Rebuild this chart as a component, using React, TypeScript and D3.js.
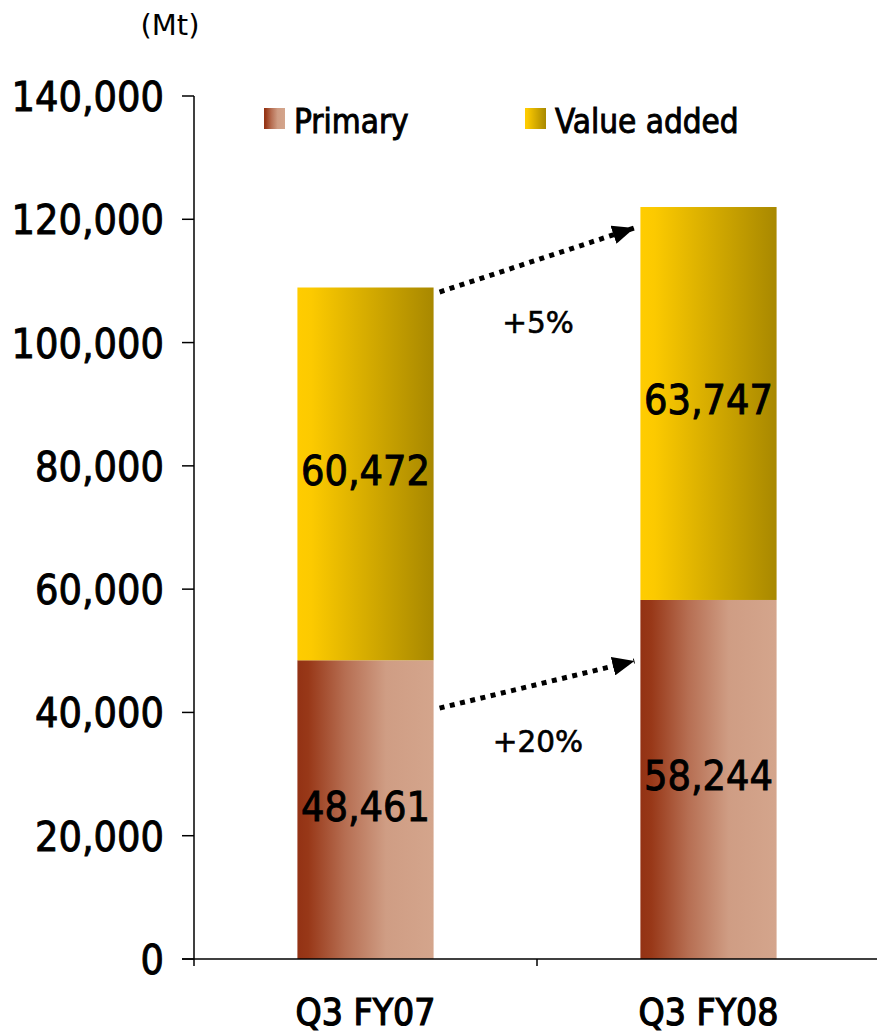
import React from "react";
import * as d3 from "d3";

const categories = ["Q3 FY07", "Q3 FY08"];
const primary = [48461, 58244];
const valueAdded = [60472, 63747];
const yTicks = [0, 20000, 40000, 60000, 80000, 100000, 120000, 140000];
const seriesNames = ["Primary", "Value added"];
// growth annotations
const growthLabels = ["+5%", "+20%"];
const arrowFrom = [108200, 40700];
const arrowTo = [118600, 48350];
const labelAt = [101500, 33500];

const W = 877;
const H = 1034;
const COND = "'DejaVu Sans Condensed','DejaVu Sans',sans-serif";
const SANS = "'DejaVu Sans',sans-serif";

export default function App() {
  const y = d3.scaleLinear().domain([0, 140000]).range([959, 96]);
  const x = d3.scaleBand().domain(categories).range([194, 880]).paddingInner(0).paddingOuter(0);
  const bw = x.bandwidth() * 0.397;
  const fmt = d3.format(",");

  const barX = (c: string) => (x(c) as number) + x.bandwidth() / 2 - bw / 2;
  const heavy = { stroke: "#000", strokeWidth: 0.9 } as any;

  return (
    <svg width={W} height={H} style={{ display: "block", position: "absolute", left: 0, top: 0 }}>
      <defs>
        <linearGradient id="gPrim" x1="0" x2="1" y1="0" y2="0">
          <stop offset="0" stopColor="#933214" />
          <stop offset="0.08" stopColor="#983818" />
          <stop offset="0.35" stopColor="#b66e52" />
          <stop offset="0.65" stopColor="#cf9d84" />
          <stop offset="1" stopColor="#d4a58c" />
        </linearGradient>
        <linearGradient id="gVal" x1="0" x2="1" y1="0" y2="0">
          <stop offset="0" stopColor="#ffcc00" />
          <stop offset="0.1" stopColor="#fcca00" />
          <stop offset="1" stopColor="#a88800" />
        </linearGradient>
        <marker id="ah" viewBox="0 0 10 10" refX="10" refY="5" markerWidth="4.4" markerHeight="3.8"
          markerUnits="strokeWidth" orient="auto" preserveAspectRatio="none">
          <path d="M0,0 L10,5 L0,10 Z" fill="#000" />
        </marker>
      </defs>

      <text x={170} y={35} fontFamily={SANS} fontSize={29} textAnchor="middle" fill="#000">(Mt)</text>

      {/* bars */}
      {categories.map((c, i) => (
        <g key={c}>
          <rect x={barX(c)} width={bw} y={y(primary[i])} height={y(0) - y(primary[i])} fill="url(#gPrim)" />
          <rect x={barX(c)} width={bw} y={y(primary[i] + valueAdded[i])}
            height={y(primary[i]) - y(primary[i] + valueAdded[i])} fill="url(#gVal)" />
          <text x={barX(c) + bw / 2} y={(y(0) + y(primary[i])) / 2 + 11} textAnchor="middle"
            fontFamily={COND} fontSize={41} fill="#000" {...heavy}>{fmt(primary[i])}</text>
          <text x={barX(c) + bw / 2} y={(y(primary[i]) + y(primary[i] + valueAdded[i])) / 2 + 11}
            textAnchor="middle" fontFamily={COND} fontSize={41} fill="#000" {...heavy}>{fmt(valueAdded[i])}</text>
        </g>
      ))}

      {/* axes */}
      <line x1={194} x2={194} y1={y(140000)} y2={966} stroke="#000" strokeWidth={1.5} />
      <line x1={182} x2={W} y1={y(0)} y2={y(0)} stroke="#000" strokeWidth={1.5} />
      {yTicks.map((t) => (
        <g key={t}>
          <line x1={182} x2={194} y1={y(t)} y2={y(t)} stroke="#000" strokeWidth={1.5} />
          <text x={164} y={y(t) + 15} textAnchor="end" fontFamily={COND} fontSize={41} fill="#000" {...heavy}>
            {fmt(t)}
          </text>
        </g>
      ))}
      {categories.map((c) => (
        <line key={"t" + c} x1={(x(c) as number) + x.bandwidth()} x2={(x(c) as number) + x.bandwidth()}
          y1={y(0)} y2={966} stroke="#000" strokeWidth={1.5} />
      ))}
      {categories.map((c) => (
        <text key={"l" + c} x={(x(c) as number) + x.bandwidth() / 2} y={1025} textAnchor="middle"
          fontFamily={COND} fontSize={37} fill="#000" stroke="#000" strokeWidth={1.2}>{c}</text>
      ))}

      {/* growth arrows */}
      {growthLabels.map((g, i) => {
        const x0 = barX(categories[0]) + bw + 6;
        const x1 = barX(categories[1]) - 6;
        return (
          <g key={g}>
            <line x1={x0} y1={y(arrowFrom[i])} x2={x1} y2={y(arrowTo[i])} stroke="#000" strokeWidth={5}
              strokeDasharray="5 5.5" markerEnd="url(#ah)" />
            <text x={538} y={y(labelAt[i])} textAnchor="middle" fontFamily={SANS}
              fontSize={29.5} fill="#000" stroke="#000" strokeWidth={0.6}>{g}</text>
          </g>
        );
      })}

      {/* legend */}
      <rect x={264} y={108} width={21} height={21} fill="url(#gPrim)" />
      <text x={294} y={133} fontFamily={COND} fontSize={33} fill="#000" {...heavy}>{seriesNames[0]}</text>
      <rect x={525} y={108} width={21} height={21} fill="url(#gVal)" />
      <text x={555} y={133} fontFamily={COND} fontSize={33} fill="#000" {...heavy}>{seriesNames[1]}</text>
    </svg>
  );
}
